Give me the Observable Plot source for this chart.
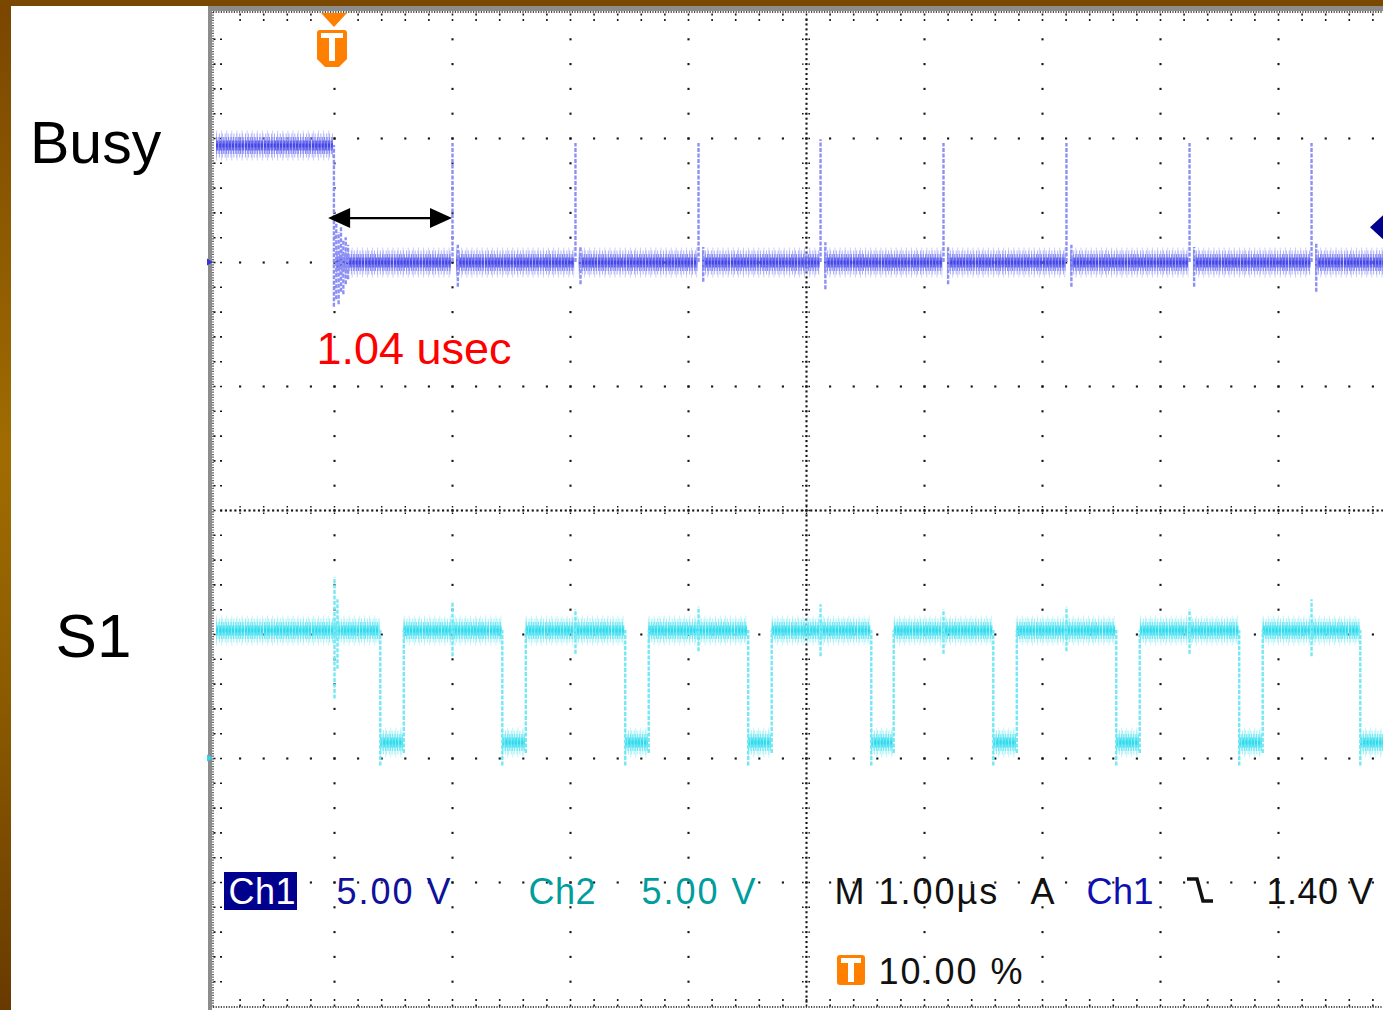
<!DOCTYPE html>
<html><head><meta charset="utf-8">
<script src="https://cdn.jsdelivr.net/npm/d3@7"></script>
<script src="https://cdn.jsdelivr.net/npm/@observablehq/plot@0.6"></script>
<style>
html,body{margin:0;padding:0;overflow:hidden;background:#fff}
#wrap{position:relative;width:1383px;height:1010px;overflow:hidden;background:#fff}
#chart svg{display:block}
g[font-family*="scopewide"] text{letter-spacing:2px}
g[font-family*="scopetight"] text{letter-spacing:0.5px}
.strip-left{position:absolute;left:0;top:0;width:11px;height:1010px;background:linear-gradient(#7a4600,#a06c02 45%,#8a5a00 70%,#683a00)}
.strip-top{position:absolute;left:0;top:0;width:1383px;height:6px;background:#7b4800}
</style></head>
<body><div id="wrap"><div id="chart"></div><div class="strip-left"></div><div class="strip-top"></div></div>
<script>
// ---------- scope settings ----------
const timeMajorTicks = [-1, 0, 1, 2, 3, 4, 5, 6, 7, 8, 9];   // µs relative to trigger
const divMajorTicks = [-4, -3, -2, -1, 0, 1, 2, 3, 4];        // vertical divisions
const minorPerMajor = 5;
const densePerMajor = 25;
const voltsPerDiv = 5;          // Ch1 5.00 V, Ch2 5.00 V
const ch1Offset = 2;            // Ch1 ground, in divisions
const ch2Offset = -2;           // Ch2 ground, in divisions
const triggerLevel = 1.40;      // V on Ch1

// ---------- Busy (Ch1) ----------
const busyLevelStart = [-1.0, 0.02, 1.035, 2.075, 3.12, 4.155, 5.195, 6.24, 7.28, 8.315];
const busyLevelEnd   = [-0.01, 0.995, 2.035, 3.08, 4.115, 5.155, 6.2, 7.24, 8.275, 8.89];
const busyLevelVolts = [4.72, 0, 0, 0, 0, 0, 0, 0, 0, 0];
const busyEdgeTime = [-0.005, 0.015, 0.035, 0.055, 0.075, 0.095, 0.115,
  1.0, 1.045, 2.042, 2.085, 3.085, 3.125, 4.119, 4.16, 5.161, 5.2, 6.203, 6.245, 7.246, 7.285, 8.28, 8.32];
const busyEdgeLow  = [-1.8, -1.5, -1.7, -1.2, -1.3, -0.9, -0.7,
  0, -1.0, 0, -0.9, 0, -0.8, 0, -1.1, 0, -0.9, 0, -1.0, 0, -1.0, 0, -1.2];
const busyEdgeHigh = [4.72, 1.6, 1.2, 1.4, 0.9, 1.0, 0.7,
  4.8, 0.7, 4.8, 0.6, 4.8, 0.6, 4.95, 0.8, 4.8, 0.6, 4.8, 0.7, 4.8, 0.6, 4.8, 0.8];

// ---------- S1 (Ch2) ----------
const s1LevelStart = [-1.0, 0.39, 0.59, 1.424, 1.625, 2.466, 2.665, 3.508, 3.71, 4.551, 4.745, 5.585, 5.785, 6.627, 6.83, 7.669, 7.87, 8.695];
const s1LevelEnd   = [0.385, 0.585, 1.42, 1.619, 2.46, 2.661, 3.50, 3.703, 4.545, 4.737, 5.58, 5.78, 6.62, 6.822, 7.665, 7.864, 8.69, 8.89];
const s1LevelVolts = [5.16, 0.65, 5.16, 0.65, 5.16, 0.65, 5.16, 0.65, 5.16, 0.65, 5.16, 0.65, 5.16, 0.65, 5.16, 0.65, 5.16, 0.65];
const s1EdgeTime = [0.388, 1.422, 2.464, 3.506, 4.549, 5.583, 6.625, 7.667, 8.693,
  0.587, 1.621, 2.663, 3.705, 4.739, 5.782, 6.824, 7.866,
  0, 0.025, 1.0, 2.042, 3.085, 4.119, 5.161, 6.203, 7.246, 8.28];
const s1EdgeLow  = [-0.3, -0.3, -0.3, -0.3, -0.3, -0.3, -0.3, -0.3, -0.3,
  0.2, 0.2, 0.2, 0.2, 0.2, 0.2, 0.2, 0.2,
  2.4, 3.6, 4.1, 4.2, 4.3, 4.1, 4.2, 4.3, 4.2, 4.1];
const s1EdgeHigh = [5.16, 5.16, 5.16, 5.16, 5.16, 5.16, 5.16, 5.16, 5.16,
  5.16, 5.16, 5.16, 5.16, 5.16, 5.16, 5.16, 5.16,
  7.3, 6.4, 6.3, 6.0, 6.1, 6.2, 6.0, 6.1, 6.0, 6.4];

// ---------- measurement arrow ----------
const arrowTime = [-0.05, 1.0];
const arrowVolts = 1.77;

// ---------- derived tables ----------
const steps = (ticks, n) => d3.range((ticks.length - 1) * n + 1).map(i => ticks[0] + i / n);
const tMinor = steps(timeMajorTicks, minorPerMajor);
const dMinor = steps(divMajorTicks, minorPerMajor);
const tDense = steps(timeMajorTicks, densePerMajor);
const dDense = steps(divMajorTicks, densePerMajor);
const dTop = divMajorTicks[divMajorTicks.length - 1], dBot = divMajorTicks[0], tLeft = timeMajorTicks[0];
const inside = d => d > dBot + 1e-6 && d < dTop - 1e-6;

const gridDots = [
  ...timeMajorTicks.filter(t => t > tLeft && t !== 4).flatMap(t => dMinor.filter(inside).map(d => ({t, d}))),
  ...divMajorTicks.filter(d => inside(d) && d !== 0).flatMap(d => tMinor.filter(t => t > tLeft).map(t => ({t, d}))),
  ...dDense.filter(inside).map(d => ({t: 4, d})),
  ...tDense.filter(t => t > tLeft).map(t => ({t, d: 0}))
];

const ch1 = v => ch1Offset + v / voltsPerDiv;
const ch2 = v => ch2Offset + v / voltsPerDiv;
const busyLevels = busyLevelStart.map((t0, i) => ({t0, t1: busyLevelEnd[i], d: ch1(busyLevelVolts[i])}));
const busyEdges = busyEdgeTime.map((t, i) => ({t, lo: ch1(busyEdgeLow[i]), hi: ch1(busyEdgeHigh[i])}));
const s1Levels = s1LevelStart.map((t0, i) => ({t0, t1: s1LevelEnd[i], d: ch2(s1LevelVolts[i])}));
const s1Edges = s1EdgeTime.map((t, i) => ({t, lo: ch2(s1EdgeLow[i]), hi: ch2(s1EdgeHigh[i])}));

// ---------- layout ----------
const W = 1383, H = 1010, mL = 216, mT = 14, mB = 4, pxPerDivX = 118;
const tMax = tLeft + (W - mL) / pxPerDivX;

const hTick = {draw(c) { c.moveTo(-4.5, 0); c.lineTo(4.5, 0); }};
const vTick = {draw(c) { c.moveTo(0, -4.5); c.lineTo(0, 4.5); }};
const hTickR = {draw(c) { c.moveTo(0, 0); c.lineTo(8.5, 0); }};
const vTickDown = {draw(c) { c.moveTo(0, 0); c.lineTo(0, 7.5); }};
const vTickUp = {draw(c) { c.moveTo(0, 0); c.lineTo(0, -7.5); }};
const ink = "#161616";

function traceMarks(levels, edges, p) {
  const seg = {x1: "t0", x2: "t1", y: "d"};
  return [
    Plot.ruleY(levels, {...seg, stroke: p.halo, strokeWidth: 30, strokeDasharray: "1 4.1"}),
    Plot.ruleY(levels, {...seg, stroke: p.light, strokeWidth: 24, strokeDasharray: "1 1.9"}),
    Plot.ruleY(levels, {...seg, stroke: p.mid, strokeWidth: 17, strokeDasharray: "1.3 1.1"}),
    Plot.ruleY(levels, {...seg, stroke: p.core, strokeWidth: 10, strokeDasharray: "2.5 0.7"}),
    Plot.ruleY(levels, {...seg, stroke: p.dark, strokeWidth: 4, strokeDasharray: "2 1.2"}),
    Plot.ruleX(edges, {x: "t", y1: "lo", y2: "hi", stroke: p.edge, strokeWidth: 2.4, strokeDasharray: "4 1.5"})
  ];
}
const busyPal = {halo: "#cdd0fb", light: "#acaff7", mid: "#8a8df3", core: "#6769ef", dark: "#4545e5", edge: "#8d90f3"};
const s1Pal = {halo: "#c4f7fb", light: "#9ef0f7", mid: "#74e9f4", core: "#55e3f2", dark: "#30d9ec", edge: "#74e8f3"};

const orange = "#ff7f00";
function overlay(index, scales, values, dims) {
  const X = scales.x, Y = scales.y;
  const g = d3.create("svg:g");
  const xl = X(tLeft), yt = Y(dTop), yb = Y(dBot), w = dims.width;
  // bezel
  g.append("rect").attr("x", xl - 8).attr("y", yt - 8).attr("width", 4).attr("height", dims.height).attr("fill", "#8c8c8c");
  g.append("rect").attr("x", xl - 8).attr("y", yt - 8).attr("width", w).attr("height", 5).attr("fill", "#8c8c8c");
  const dotted = (x1, y1, x2, y2) => g.append("line").attr("x1", x1).attr("y1", y1).attr("x2", x2).attr("y2", y2)
    .attr("stroke", ink).attr("stroke-width", 1.3).attr("stroke-dasharray", "1.2 1.4");
  dotted(xl - 3, yt - 2, xl - 3, yb + 2);
  dotted(xl - 3, yt - 2, w, yt - 2);
  dotted(xl - 3, yb + 1, w, yb + 1);
  // ground markers
  const gm = (y, c) => g.append("path").attr("d", `M${xl - 9},${y - 3.5}L${xl - 3},${y}L${xl - 9},${y + 3.5}Z`).attr("fill", c);
  gm(Y(ch1Offset), "#3434d8"); gm(Y(ch2Offset), "#2fd5e8");
  // trigger position flag
  const xt = X(0), xc = xt - 2;
  g.append("path").attr("d", `M${xt - 13},${yt - 1}H${xt + 13}L${xt},${yt + 13}Z`).attr("fill", orange);
  g.append("path").attr("d", `M${xc - 15},${yt + 19}Q${xc - 15},${yt + 16} ${xc - 12},${yt + 16}H${xc + 12}Q${xc + 15},${yt + 16} ${xc + 15},${yt + 19}V${yt + 45}L${xc + 7},${yt + 53}H${xc - 7}L${xc - 15},${yt + 45}Z`).attr("fill", orange);
  g.append("rect").attr("x", xc - 11).attr("y", yt + 19).attr("width", 22).attr("height", 5).attr("fill", "#fff");
  g.append("rect").attr("x", xc - 3).attr("y", yt + 19).attr("width", 6).attr("height", 28).attr("fill", "#fff");
  // trigger level marker
  const yl = Y(ch1(triggerLevel)), xr = w - 13;
  g.append("path").attr("d", `M${xr},${yl}L${xr + 14},${yl - 13}L${xr + 28},${yl}L${xr + 14},${yl + 13}Z`).attr("fill", "#00008c");
  // measurement arrow
  const ya = Y(ch1(arrowVolts)), xa0 = X(arrowTime[0]), xa1 = X(arrowTime[1]);
  g.append("line").attr("x1", xa0 + 18).attr("x2", xa1 - 18).attr("y1", ya).attr("y2", ya).attr("stroke", "#000").attr("stroke-width", 2.2);
  g.append("path").attr("d", `M${xa0},${ya}L${xa0 + 22},${ya - 10}L${xa0 + 22},${ya + 10}Z`).attr("fill", "#000");
  g.append("path").attr("d", `M${xa1},${ya}L${xa1 - 22},${ya - 10}L${xa1 - 22},${ya + 10}Z`).attr("fill", "#000");
  // readout boxes
  const y3 = Y(-3);
  g.append("rect").attr("x", xl + 8).attr("y", y3 - 10).attr("width", 73).attr("height", 38).attr("fill", "#00008e");
  const x8 = X(8);
  g.append("path").attr("d", `M${x8 - 91},${y3 - 3}H${x8 - 81}L${x8 - 75},${y3 + 19}H${x8 - 65}`).attr("fill", "none").attr("stroke", "#111").attr("stroke-width", 3.5);
  const bx = X(4) + 31, by = Y(-3.5) + 11;
  g.append("rect").attr("x", bx).attr("y", by).attr("width", 28).attr("height", 30).attr("rx", 3).attr("fill", orange);
  g.append("rect").attr("x", bx + 4).attr("y", by + 3).attr("width", 20).attr("height", 5).attr("fill", "#fff");
  g.append("rect").attr("x", bx + 11).attr("y", by + 3).attr("width", 6).attr("height", 24).attr("fill", "#fff");
  return g.node();
}

const readout = (text, t, d, fill, spacing = "scopewide") => Plot.text([text], {
  x: t, y: d, text: v => v, fill, fontFamily: `Liberation Sans, ${spacing}`, fontSize: 36,
  textAnchor: "start", lineAnchor: "middle"
});

const chart = Plot.plot({
  width: W, height: H,
  marginLeft: mL, marginRight: 0, marginTop: mT, marginBottom: mB,
  x: {domain: [tLeft, tMax], axis: null},
  y: {domain: [dBot, dTop], axis: null},
  marks: [
    Plot.dot(gridDots, {x: "t", y: "d", r: 1.2, symbol: "square", fill: ink}),
    Plot.dot(dMinor.filter(inside).map(d => ({t: 4, d})), {x: "t", y: "d", symbol: hTick, fill: "none", stroke: ink, strokeWidth: 1.4, strokeDasharray: "1.6 1.6"}),
    Plot.dot(tMinor.filter(t => t > tLeft).map(t => ({t, d: 0})), {x: "t", y: "d", symbol: vTick, fill: "none", stroke: ink, strokeWidth: 1.4, strokeDasharray: "1.6 1.6"}),
    Plot.dot(dMinor.filter(inside).map(d => ({t: tLeft, d})), {x: "t", y: "d", dx: -3, symbol: hTickR, fill: "none", stroke: ink, strokeWidth: 1.6, strokeDasharray: "2 4.5"}),
    Plot.dot(tMinor.filter(t => t > tLeft).map(t => ({t, d: dTop})), {x: "t", y: "d", dy: -1, symbol: vTickDown, fill: "none", stroke: ink, strokeWidth: 1.6, strokeDasharray: "2 3.5"}),
    Plot.dot(tMinor.filter(t => t > tLeft).map(t => ({t, d: dBot})), {x: "t", y: "d", symbol: vTickUp, fill: "none", stroke: ink, strokeWidth: 1.6, strokeDasharray: "2 3.5"}),
    ...traceMarks(s1Levels, s1Edges, s1Pal),
    ...traceMarks(busyLevels, busyEdges, busyPal),
    overlay,
    Plot.text(["Busy"], {x: -2.025, y: 2.951, text: v => v, fontFamily: "Liberation Sans", fontSize: 59, fill: "#000", textAnchor: "middle", lineAnchor: "middle"}),
    Plot.text(["S1"], {x: -2.042, y: -1.018, text: v => v, fontFamily: "Liberation Sans", fontSize: 62, fill: "#000", textAnchor: "middle", lineAnchor: "middle"}),
    Plot.text(["1.04 usec"], {x: -0.153, y: 1.299, text: v => v, fontFamily: "Liberation Sans", fontSize: 45, fill: "#ff0000", textAnchor: "start", lineAnchor: "middle"}),
    readout("Ch1", -0.898, -3.081, "#ffffff", "scopetight"),
    readout("5.00 V", 0.017, -3.081, "#10109a"),
    readout("Ch2", 1.644, -3.081, "#009d9d", "scopetight"),
    readout("5.00 V", 2.602, -3.081, "#009d9d"),
    readout("M 1.00µs", 4.237, -3.081, "#111111"),
    readout("A", 5.898, -3.081, "#111111"),
    readout("Ch1", 6.373, -3.081, "#1010b0", "scopetight"),
    readout("1.40 V", 7.898, -3.081, "#111111", "scopetight"),
    readout("10.00 %", 4.61, -3.727, "#111111")
  ]
});
document.getElementById("chart").append(chart);
</script></body></html>
